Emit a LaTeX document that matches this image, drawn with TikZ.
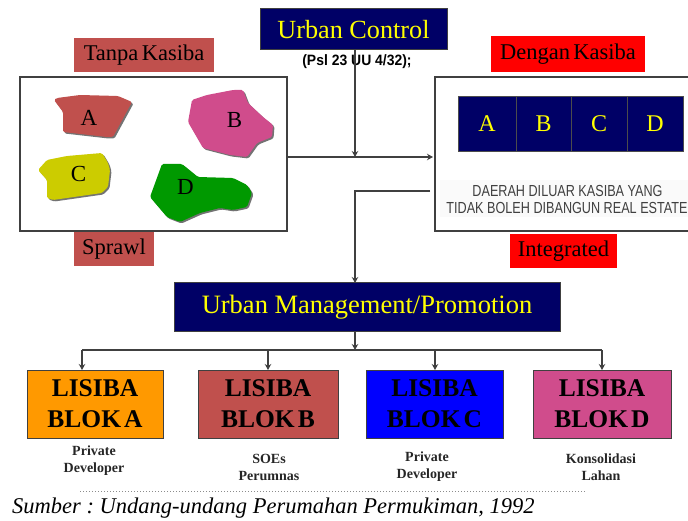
\documentclass[tikz,border=0pt]{standalone}
\usepackage{fontspec}
\setmainfont{Liberation Serif}
\newfontfamily\arialfont{Liberation Sans}
\usetikzlibrary{arrows.meta}
\frenchspacing
\definecolor{navy}{HTML}{000066}
\definecolor{lemon}{HTML}{FFFF00}
\definecolor{brick}{HTML}{C0504D}
\definecolor{rose}{HTML}{D04C8C}
\definecolor{olive}{HTML}{CCCC00}
\definecolor{leaf}{HTML}{009900}
\definecolor{amber}{HTML}{FF9900}
\definecolor{edge}{HTML}{404040}
\tikzset{
  box/.style={draw=edge, line width=1pt, inner sep=0pt, outer sep=0pt},
  titlebox/.style={box, fill=navy, text=lemon},
  tagbox/.style={inner sep=0pt, outer sep=0pt, font=\fontsize{22.5}{24}\selectfont},
  frame/.style={draw=edge, line width=1.6pt},
  conn/.style={draw=edge, line width=1.4pt},
  arr/.style={conn, -{Stealth[length=6pt,width=6.5pt]}},
  cell/.style={draw=black!70, fill=navy, text=lemon, inner sep=0pt, outer sep=0pt,
    minimum height=55pt, font=\fontsize{24}{24}\selectfont},
  blob/.style={rounded corners=1.5pt},
  blobshadow/.style={blob, fill=black!55},
  blobtext/.style={font=\fontsize{23}{24}\selectfont},
  lisiba/.style={box, align=center, minimum height=68pt,
    font=\fontsize{25.5}{31}\selectfont\bfseries},
  actor/.style={align=center, font=\fontsize{14}{17}\selectfont\bfseries, text=black!85},
}
\begin{document}
\begin{tikzpicture}[x=1pt,y=-1pt]
\useasboundingbox (0,0) rectangle (688,521);

% title of the control stage
\node[titlebox, minimum width=187pt, minimum height=41pt,
      font=\fontsize{26.2}{27}\selectfont] (uc) at (353.5,29.5) {Urban Control};
\node[font=\arialfont\bfseries\fontsize{15}{16}\selectfont, inner sep=0pt, xscale=0.93] (psl)
  at (357,62) {(Psl 23 UU 4/32);};

% left panel: scattered estates
\node[tagbox, fill=brick, minimum width=140pt, minimum height=34pt] (tanpa) at (144,55)
  {Tanpa\hspace{0.15em}Kasiba};
\node[frame, inner sep=0pt, outer sep=0pt, minimum width=267pt, minimum height=154pt]
  (left) at (153.5,154) {};
\node[tagbox, fill=brick, minimum width=80pt, minimum height=34pt] (sprawl) at (114,249)
  {Sprawl};

% blob A
\fill[blobshadow, xshift=1.5pt, yshift=-1.5pt] (54,100) -- (57,98) -- (80,95) -- (118,96) -- (132,102)
  -- (113,137) -- (107,137) -- (63,132) -- (63,112) -- cycle;
\fill[blob, fill=brick] (54,100) -- (57,98) -- (80,95) -- (118,96) -- (132,102)
  -- (113,137) -- (107,137) -- (63,132) -- (63,112) -- cycle;
% blob B
\fill[blobshadow, xshift=1.5pt, yshift=-1.5pt] (192,100) -- (207,95) -- (233,90) -- (243,90) -- (248,103)
  -- (263,117) -- (273,125) -- (272,137) -- (257,143) -- (247,157) -- (230,155)
  -- (203,148) -- (188,122) -- cycle;
\fill[blob, fill=rose] (192,100) -- (207,95) -- (233,90) -- (243,90) -- (248,103)
  -- (263,117) -- (273,125) -- (272,137) -- (257,143) -- (247,157) -- (230,155)
  -- (203,148) -- (188,122) -- cycle;
% blob C
\fill[blobshadow, xshift=1.5pt, yshift=-1.5pt] (38,170) -- (47,160) -- (67,156) -- (102,153) -- (108,163)
  -- (110,170) -- (108,187) -- (102,193) -- (53,200) -- (47,198) -- (47,180) -- cycle;
\fill[blob, fill=olive] (38,170) -- (47,160) -- (67,156) -- (102,153) -- (108,163)
  -- (110,170) -- (108,187) -- (102,193) -- (53,200) -- (47,198) -- (47,180) -- cycle;
% blob D
\fill[blobshadow, xshift=1.5pt, yshift=-1.5pt] (150,197) -- (162,164) -- (182,164) -- (198,177) -- (233,178)
  -- (247,185) -- (252,193) -- (247,207) -- (233,210) -- (220,208) -- (200,213)
  -- (180,222) -- (167,217) -- cycle;
\fill[blob, fill=leaf] (150,197) -- (162,164) -- (182,164) -- (198,177) -- (233,178)
  -- (247,185) -- (252,193) -- (247,207) -- (233,210) -- (220,208) -- (200,213)
  -- (180,222) -- (167,217) -- cycle;

\node[blobtext] (ba) at (89,118) {A};
\node[blobtext] (bb) at (234.5,120.5) {B};
\node[blobtext] (bc) at (78.5,174.5) {C};
\node[blobtext] (bd) at (185.5,187) {D};

% right panel: planned blocks
\node[tagbox, fill=red, minimum width=154pt, minimum height=36pt] (dengan) at (568,54)
  {Dengan\hspace{0.15em}Kasiba};
\coordinate (rb) at (435,154);
\fill[black!2] (440,180) rectangle (688,217);
\draw[frame] (690,77) -- (435,77) -- (435,231) -- (690,231);
\node[cell, minimum width=58pt] (ca) at (487,123.5) {A};
\node[cell, minimum width=55pt] (cb) at (543.5,123.5) {B};
\node[cell, minimum width=56pt] (cc) at (599,123.5) {C};
\node[cell, minimum width=56pt] (cd) at (655,123.5) {D};
\node[font=\arialfont\fontsize{16}{16}\selectfont, text=black!75, inner sep=0pt, xscale=0.79]
  (dl1) at (567.5,191) {DAERAH DILUAR KASIBA YANG};
\node[font=\arialfont\fontsize{16}{16}\selectfont, text=black!75, inner sep=0pt, xscale=0.79]
  (dl2) at (567,207.5) {TIDAK BOLEH DIBANGUN REAL ESTATE};
\node[tagbox, fill=red, minimum width=107pt, minimum height=34pt] (integ) at (563.5,251)
  {Integrated};

% management stage
\node[titlebox, minimum width=386pt, minimum height=48pt,
      font=\fontsize{26.5}{27}\selectfont] (um) at (367,307) {Urban Management/Promotion};

% development blocks
\node[lisiba, fill=amber, minimum width=136pt] (la) at (95,404) {LISIBA\\BLOK\hspace{0.12em}A};
\node[lisiba, fill=brick, minimum width=140pt] (lb) at (268,404) {LISIBA\\BLOK\hspace{0.12em}B};
\node[lisiba, fill=blue, minimum width=137pt] (lc) at (434.5,404) {LISIBA\\BLOK\hspace{0.12em}C};
\node[lisiba, fill=rose, minimum width=138pt] (ld) at (602,404) {LISIBA\\BLOK\hspace{0.12em}D};

\node[actor] (aa) at (94,461) {Private\\Developer};
\node[actor] (ab) at (269,467) {SOEs\\Perumnas};
\node[actor] (ac) at (427,467) {Private\\Developer};
\node[actor] (ad) at (601,467) {Konsolidasi\\Lahan};

% connectors
\coordinate (hub) at (355,157);
\coordinate (turn) at (355,191);
\coordinate (bus) at (355,350);
\coordinate (ja) at (82,350);
\coordinate (jb) at (268,350);
\coordinate (jc) at (435,350);
\coordinate (jd) at (602,350);

\draw[arr] (uc.south -| hub) -- (hub);
\draw[arr] (left.east |- hub) -- ([xshift=-2pt]rb |- hub);
\draw[arr] ([xshift=-5pt]rb |- turn) -- (turn) -- (turn |- um.north);
\draw[arr] (um.south -| bus) -- (bus);
\draw[conn] (ja) -- (jd);
\draw[arr] (ja) -- (ja |- la.north);
\draw[arr] (jb) -- (jb |- lb.north);
\draw[arr] (jc) -- (jc |- lc.north);
\draw[arr] (jd) -- (jd |- ld.north);

% source line
\draw[black!45, line width=1pt, dotted] (80,491) -- (585,491);
\node[anchor=west, inner sep=0pt, font=\itshape\fontsize{22.5}{24}\selectfont] (src)
  at (12,508) {Sumber : Undang-undang Perumahan Permukiman, 1992};
\end{tikzpicture}
\end{document}
